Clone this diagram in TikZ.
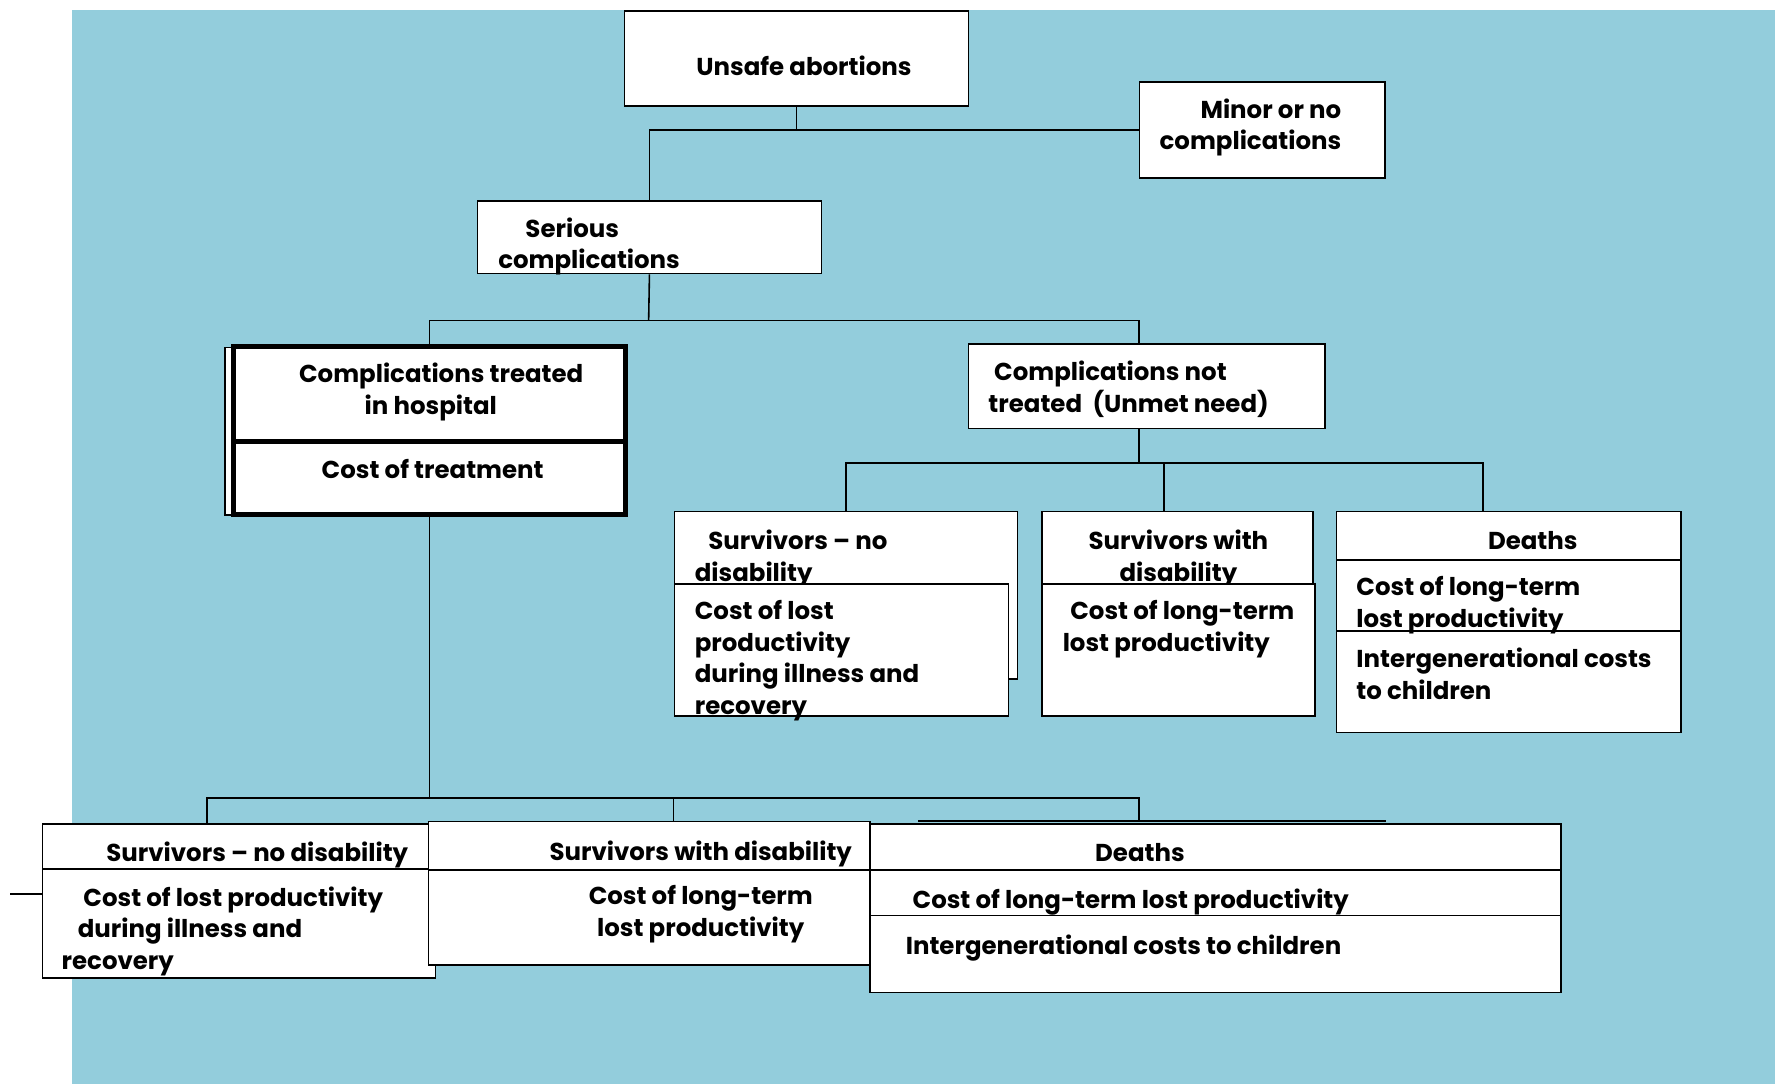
\documentclass[tikz,border=0pt]{standalone}
\usepackage{fontspec}
\setmainfont{Poppins}
\usetikzlibrary{positioning,calc}
\definecolor{bgblue}{RGB}{147,205,220}

\begin{document}
\begin{tikzpicture}[x=1pt,y=-1pt,
  box/.style={draw,fill=white,line width=1.4pt,anchor=north west,inner sep=0},
  heavy/.style={box,line width=4.5pt},
  link/.style={line width=1.4pt},
  txt/.style={inner sep=0,anchor=north west,align=left,
    font=\bfseries\fontsize{21.6}{28}\selectfont,execute at begin node=\strut}]
\useasboundingbox (0,0) rectangle (1568,958);
\fill[bgblue] (63.5,9) rectangle (1568,958);

% top of the tree
\node[box,minimum width=304,minimum height=84] (unsafe) at (551,9) {};
\node[txt] (unsafeT) at (615,46.5) {Unsafe abortions};
\node[box,minimum width=217,minimum height=85] (minor) at (1006,71.5) {};
\node[txt,anchor=north east,align=right] (minorT) at (1185,87) {Minor or no\\complications};
\node[box,minimum width=304,minimum height=64] (serious) at (421,177) {};
\node[txt] (seriousT) at (440,192) {\hspace*{24pt}Serious\\complications};

% treated in hospital
\draw[link,fill=white] (199,307) rectangle (547,455);
\node[heavy,minimum width=346,minimum height=84] (treatedA) at (204,304) {};
\node[heavy,minimum width=346,minimum height=64] (treatedB) at (204,388) {};
\node[txt] (treatedT) at (264,320.5) {Complications treated\\\hspace*{58pt}in hospital};
\node[txt] (costT) at (284,402.5) {Cost of treatment};

% not treated
\node[box,minimum width=315,minimum height=75] (nottreated) at (855,303) {};
\node[txt] (notT) at (873,318.5) {\hspace*{5pt}Complications not\\treated\ \ (Unmet need)};

% upper row
\node[box,minimum width=303,minimum height=148] (snoA) at (595,451) {};
\node[txt] (snoT) at (613.6,468) {\hspace*{12pt}Survivors – no\\disability};
\node[box,minimum width=295,minimum height=117] (snoB) at (595,515) {};
\node[txt] (snoC) at (613.6,530) {Cost of lost\\productivity\\during illness and\\recovery};
\node[box,minimum width=239,minimum height=64] (swdA) at (920,451) {};
\node[txt,anchor=north,align=center] (swdT) at (1041,468) {Survivors with\\disability};
\node[box,minimum width=241,minimum height=117] (swdB) at (920,515) {};
\node[txt] (swdC) at (938.6,530) {\hspace*{6.7pt}Cost of long-term\\lost productivity};
\node[box,minimum width=304,minimum height=43] (dthA) at (1180,451) {};
\node[box,minimum width=304,minimum height=62.5] (dthB) at (1180,494) {};
\node[box,minimum width=304,minimum height=90] (dthC) at (1180,556.5) {};
\node[txt,anchor=north,align=center] (dthT) at (1354,466) {Deaths};
\node[txt] (dthBT) at (1198,509) {Cost of long-term\\lost productivity};
\node[txt] (dthCT) at (1198,572.5) {Intergenerational costs\\to children};

% lower row
\node[box,minimum width=347,minimum height=96] (bsnoB) at (37,767) {};
\node[box,minimum width=341,minimum height=40] (bsnoA) at (37,727) {};
\node[txt] (bsnoT) at (93.8,741.5) {Survivors – no disability};
\node[txt] (bsnoC) at (54.3,783) {\hspace*{19.2pt}Cost of lost productivity\\\hspace*{14.2pt}during illness and\\recovery};
\node[box,minimum width=390,minimum height=43] (bswdA) at (378,725) {};
\node[box,minimum width=390,minimum height=84] (bswdB) at (378,768) {};
\node[txt] (bswdT) at (485.3,740) {Survivors with disability};
\node[txt,anchor=north,align=center] (bswdC) at (619,782) {Cost of long-term\\lost productivity};
\node[box,minimum width=610,minimum height=41] (bdthA) at (768,727) {};
\node[box,minimum width=610,minimum height=40] (bdthB) at (768,768) {};
\node[box,minimum width=610,minimum height=68] (bdthC) at (768,808) {};
\node[txt,anchor=north,align=center] (bdthT) at (1007,741.5) {Deaths};
\node[txt] (bdthBT) at (806,783) {Cost of long-term lost productivity};
\node[txt] (bdthCT) at (800,823.5) {Intergenerational costs to children};
\draw[link] ([shift={(43,-2)}]bdthA.north west) -- ([shift={(456,-2)}]bdthA.north west);
\draw[link] ([yshift=26pt]bsnoB.west) -- ++(-28,0);

% junctions
\coordinate (spine) at (1006,0);
\coordinate (bar2) at (573,283);
\coordinate (s3) at (1028,409);
\coordinate (d3) at (1310,409);
\coordinate (l4) at (183,705);
\coordinate (m4) at (595,705);
\coordinate (r4) at (1006,705);

% connectors
\draw[link] (unsafe.south) -- (unsafe.south |- minor.west);
\draw[link] (serious.north) |- (minor.west);
\draw[link] (serious.south) -- (bar2);
\draw[link] (treatedA.north) |- (bar2) -| (nottreated.north -| spine);
\draw[link] (nottreated.south -| spine) -- (spine |- d3);
\draw[link] (snoA.north) |- (d3) -- (d3 |- dthA.north);
\draw[link] (s3) -- (s3 |- swdA.north);
\draw[link] (treatedB.south) -- (treatedB.south |- l4);
\draw[link] (l4 |- bsnoA.north) -- (l4) -- (r4) -- (r4 |- bswdA.north);
\draw[link] (m4) -- (m4 |- bswdA.north);
\end{tikzpicture}
\end{document}
